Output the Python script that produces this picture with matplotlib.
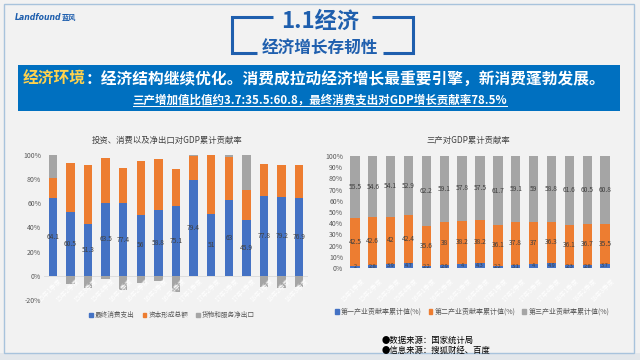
import matplotlib
matplotlib.use('Agg')
import matplotlib.pyplot as plt
from matplotlib.lines import Line2D
from matplotlib.patches import Rectangle, Patch

plt.rcParams['font.family'] = ['Noto Sans CJK SC', 'DejaVu Sans']

# ---------------- data ----------------
quarters = ['15年1季度', '15年2季度', '15年3季度', '15年4季度',
            '16年1季度', '16年2季度', '16年3季度', '16年4季度',
            '17年1季度', '17年2季度', '17年3季度', '17年4季度',
            '18年1季度', '18年2季度', '18年3季度']

# left chart (bar heights as drawn, %)
consumption = [64.4, 52.5, 42.8, 60.5, 60.0, 50.5, 54.4, 57.8, 79.2, 51.1, 63.0, 45.8, 66.0, 65.3, 64.4]
capital = [16.6, 40.8, 48.6, 37.3, 29.0, 44.8, 42.0, 30.5, 20.0, 48.9, 35.3, 25.6, 26.2, 26.1, 27.3]
net_export = [19.0, -7.0, -10.0, -3.0, -12.0, -6.0, -4.5, -13.0, 0.8, 0.0, 1.7, 28.6, -9.0, -10.0, -9.5]
consumption_labels = ['64.1', '60.5', '51.3', '63.5', '77.4', '56', '58.8', '75.1',
                      '79.4', '51', '63', '45.9', '77.8', '79.2', '76.9']
left_series = ['最终消费支出', '资本形成总额', '货物和服务净出口']
left_yticks = [-20, 0, 20, 40, 60, 80, 100]

# right chart
primary = [2.0, 2.8, 3.9, 4.7, 2.2, 2.9, 4.0, 4.3, 2.2, 3.1, 4.0, 4.9, 2.3, 2.8, 3.7]
secondary = [42.5, 42.6, 42, 42.4, 35.6, 38, 38.2, 38.2, 36.1, 37.8, 37, 36.3, 36.1, 36.7, 35.5]
tertiary = [55.5, 54.6, 54.1, 52.9, 62.2, 59.1, 57.8, 57.5, 61.7, 59.1, 59, 58.8, 61.6, 60.5, 60.8]
right_series = ['第一产业贡献率累计值(%)', '第二产业贡献率累计值(%)', '第三产业贡献率累计值(%)']
right_yticks = [0, 10, 20, 30, 40, 50, 60, 70, 80, 90, 100]

BLUE = '#4472c4'
ORANGE = '#ed7d31'
GRAY = '#a5a5a5'
DARK = '#1f5fae'
TICK = '#595959'

W, H = 640, 360
fig = plt.figure(figsize=(6.4, 3.6), dpi=100, facecolor='#f2f2f2')


def fx(x):
    return x / W


def fy(y):
    return 1 - y / H


# background frame
fig.add_artist(Rectangle((0, 0), 1, fy(353), transform=fig.transFigure,
                         facecolor='#e3e7eb', edgecolor='none', zorder=0))
fig.add_artist(Rectangle((fx(4), fy(353)), fx(630), 349 / H, transform=fig.transFigure,
                         fill=False, edgecolor='#a8c3dc', lw=1.0, zorder=1))

# logo
t_logo = fig.text(fx(15), fy(17), 'Landfound', fontsize=5.6, fontweight='bold', style='italic',
                  color=DARK, family=['DejaVu Sans'], ha='left', va='center')
fig.canvas.draw()
r = fig.canvas.get_renderer()
bb = t_logo.get_window_extent(r)
fig.text(bb.x1 / W + 0.001, fy(17), '蓝风', fontsize=5.2, fontweight='bold', color=DARK,
         ha='left', va='center')

# title brackets
def fline(xs, ys, lw=2.2):
    fig.add_artist(Line2D([fx(x) for x in xs], [fy(y) for y in ys], transform=fig.transFigure,
                          color=DARK, lw=lw, solid_capstyle='butt', solid_joinstyle='miter'))


fline([273, 232, 232, 257], [17, 17, 53, 53])
fline([372, 413, 413, 383], [17, 17, 53, 53])
fig.text(0.5, fy(21), '1.1经济', fontsize=16, fontweight='bold', color=DARK, ha='center', va='center')
fig.text(0.5, fy(49), '经济增长存韧性', fontsize=12, fontweight='bold', color=DARK, ha='center', va='center')

# banner
fig.add_artist(Rectangle((fx(18), fy(111)), fx(602), 46 / H, transform=fig.transFigure,
                         facecolor='#0070c0', edgecolor='none'))
t1 = fig.text(fx(23), fy(79), '经济环境', fontsize=11.3, fontweight='bold', color='#ffd24d',
              ha='left', va='center')
fig.canvas.draw()
bb = t1.get_window_extent(r)
fig.text(bb.x1 / W, fy(79), '：经济结构继续优化。消费成拉动经济增长最重要引擎，新消费蓬勃发展。',
         fontsize=11.3, fontweight='bold', color='white', ha='left', va='center')
t2 = fig.text(0.5, fy(100), '三产增加值比值约3.7:35.5:60.8，最终消费支出对GDP增长贡献率78.5%',
              fontsize=8.3, fontweight='bold', color='white', ha='center', va='center')
fig.canvas.draw()
bb = t2.get_window_extent(r)
fig.add_artist(Line2D([bb.x0 / W, bb.x1 / W], [bb.y0 / H + 0.002, bb.y0 / H + 0.002],
                      transform=fig.transFigure, color='white', lw=0.7))

# ---------------- left chart ----------------
x = list(range(len(quarters)))
axL = fig.add_axes([fx(44), fy(300), fx(264), (300 - 155) / H])
axL.set_facecolor('none')
bw = 0.48
bL1 = axL.bar(x, consumption, bw, color=BLUE, zorder=2)
bL2 = axL.bar(x, capital, bw, bottom=consumption, color=ORANGE, zorder=2)
gray_bottom = [c + k if n > 0 else 0 for c, k, n in zip(consumption, capital, net_export)]
axL.bar(x, net_export, bw, bottom=gray_bottom, color=GRAY, zorder=2)
axL.bar_label(bL1, labels=consumption_labels, label_type='center', fontsize=4.8, color='#404040')
axL.axhline(0, color='#d9d9d9', lw=0.6, zorder=1)
axL.set_xlim(-0.5, len(quarters) - 0.5)
axL.set_ylim(-20, 100)
axL.set_yticks(left_yticks)
axL.set_yticklabels([f'{v}%' for v in left_yticks])
axL.set_xticks([])
axL.tick_params(axis='y', length=0, labelsize=5, labelcolor=TICK, pad=2)
for s in axL.spines.values():
    s.set_visible(False)
for i, q in enumerate(quarters):
    axL.text(i + 0.3, -1.0, q, rotation=45, ha='right', va='top', rotation_mode='anchor',
             fontsize=4.6, color='white', zorder=5, clip_on=False)
fig.text(fx(167), fy(140), '投资、消费以及净出口对GDP累计贡献率', fontsize=6, color='#404040',
         ha='center', va='center')
fig.legend(handles=[Patch(color=c) for c in (BLUE, ORANGE, GRAY)], labels=left_series,
           loc='center', bbox_to_anchor=(fx(172), fy(315)), ncol=3, frameon=False,
           fontsize=4.8, handlelength=0.55, handleheight=0.55, handletextpad=0.3,
           columnspacing=1.2, labelcolor=TICK)

# ---------------- right chart ----------------
axR = fig.add_axes([fx(346), fy(268), fx(268), (268 - 156) / H])
axR.set_facecolor('none')
bw = 0.52
b1 = axR.bar(x, primary, bw, color=BLUE, zorder=2)
b2 = axR.bar(x, secondary, bw, bottom=primary, color=ORANGE, zorder=2)
bottom3 = [p + s for p, s in zip(primary, secondary)]
b3 = axR.bar(x, tertiary, bw, bottom=bottom3, color=GRAY, zorder=2)
axR.bar_label(b1, fmt='%g', label_type='center', fontsize=4.0, color='#404040')
axR.bar_label(b2, fmt='%g', label_type='center', fontsize=4.8, color='#404040')
axR.bar_label(b3, fmt='%g', label_type='center', fontsize=4.8, color='#404040')
axR.set_xlim(-0.5, len(quarters) - 0.5)
axR.set_ylim(0, 100)
axR.set_yticks(right_yticks)
axR.set_yticklabels([f'{v}%' for v in right_yticks])
axR.set_xticks([])
axR.tick_params(axis='y', length=0, labelsize=5, labelcolor=TICK, pad=2)
for s in axR.spines.values():
    s.set_visible(False)
axR.axhline(0, color='#d9d9d9', lw=0.6, zorder=1)
for i, q in enumerate(quarters):
    axR.text(i + 0.3, -8.0, q, rotation=45, ha='right', va='top', rotation_mode='anchor',
             fontsize=4.6, color='white', zorder=5, clip_on=False)
fig.text(fx(468), fy(140), '三产对GDP累计贡献率', fontsize=6, color='#404040',
         ha='center', va='center')
fig.legend(handles=[Patch(color=c) for c in (BLUE, ORANGE, GRAY)], labels=right_series,
           loc='center', bbox_to_anchor=(fx(472), fy(312)), ncol=3, frameon=False,
           fontsize=5.0, handlelength=0.55, handleheight=0.55, handletextpad=0.3,
           columnspacing=1.0, labelcolor=TICK)

# sources
fig.text(fx(382), fy(340), '●数据来源：国家统计局', fontsize=6, color='black', ha='left', va='center')
fig.text(fx(382), fy(350), '●信息来源：搜狐财经、百度', fontsize=6, color='black', ha='left', va='center')

fig.savefig('out.png', dpi=100, facecolor=fig.get_facecolor())
